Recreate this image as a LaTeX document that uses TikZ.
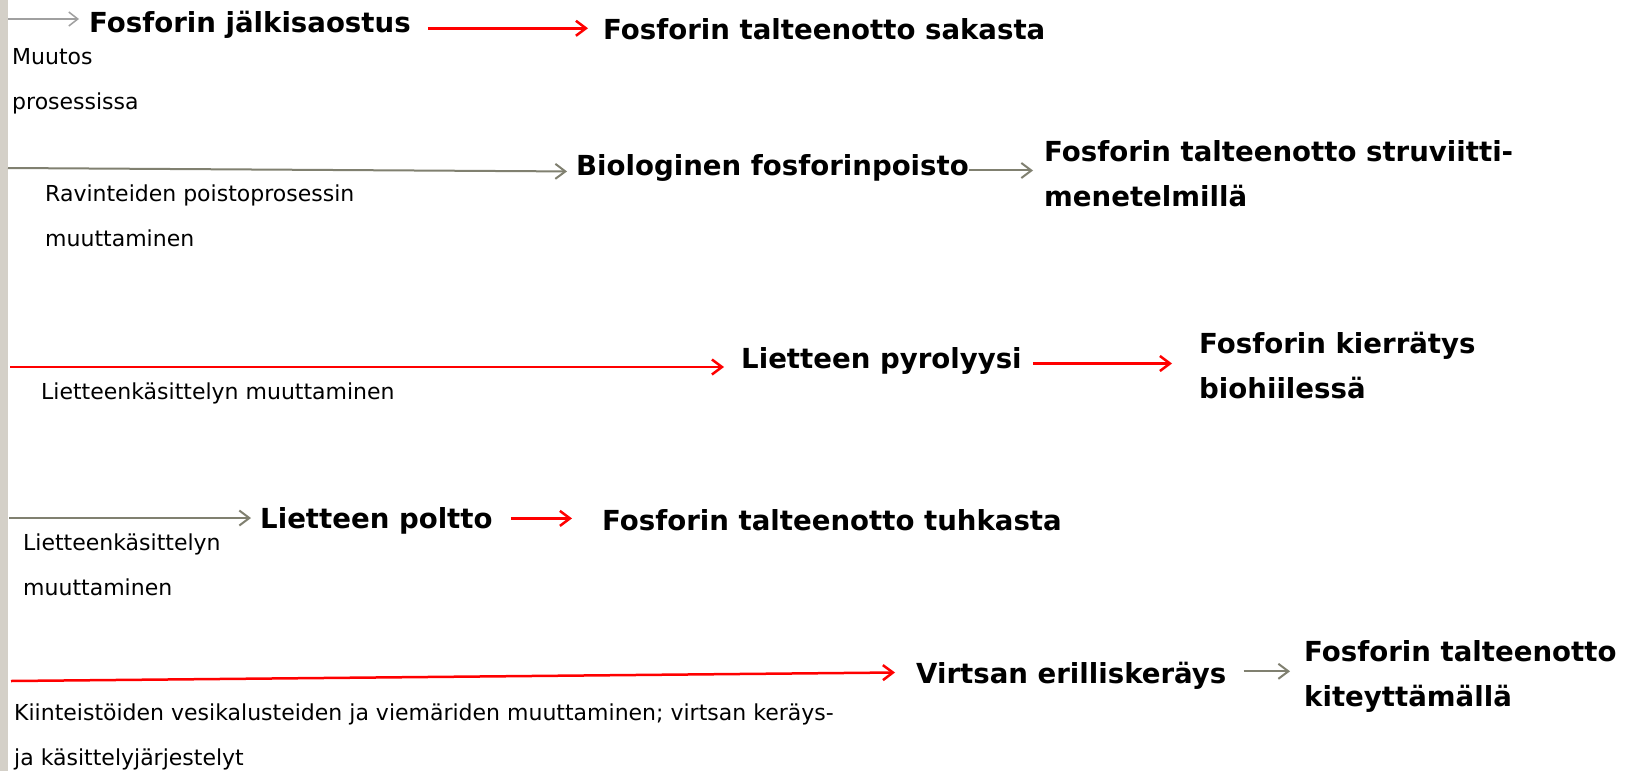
\documentclass[tikz,border=0pt]{standalone}
\usepackage{fontspec}
\setmainfont{DejaVu Sans}
\usetikzlibrary{arrows.meta}
\definecolor{barcol}{RGB}{212,208,200}
\definecolor{arrowgray}{RGB}{128,128,112}
\definecolor{palegray}{RGB}{160,160,160}
\begin{document}
\begin{tikzpicture}[x=1pt,y=-1pt,
    stage/.style={inner sep=0pt, anchor=base west, align=left, font=\fontsize{27.6}{44.5}\selectfont\bfseries},
    note/.style={inner sep=0pt, anchor=base west, align=left, font=\fontsize{22}{44.5}\selectfont},
    redarrow/.style={-{Straight Barb[length=10pt,width=15pt]}, red, line width=2.5pt},
    grayarrow/.style={-{Straight Barb[length=10pt,width=15pt]}, arrowgray, line width=2pt},
    lightarrow/.style={-{Straight Barb[length=9pt,width=14pt]}, palegray, line width=1.5pt}]
    % Canvas and left bar
    \fill[white] (0,0) rectangle (1627,771);
    \useasboundingbox (0,0) rectangle (1627,771);
    \fill[barcol] (0,0) rectangle (8,771);

    % Row 1: post-precipitation
    \coordinate (s1) at (8,19);
    \node[stage] (post) at (89,32) {Fosforin jälkisaostus};
    \node[stage] (sakasta) at (603,39.3) {Fosforin talteenotto sakasta};
    \node[note] (muutos) at (12,109) {Muutos\\prosessissa};
    \draw[lightarrow, shorten >=10pt] (s1) -- (s1 -| post.west);
    \draw[redarrow, shorten <=17pt, shorten >=15pt] ([yshift=-4pt]post.east) -- ([yshift=-4pt]post.east -| sakasta.west);

    % Row 2: biological removal
    \coordinate (s2) at (8,168);
    \node[stage] (bio) at (576,175) {Biologinen fosforinpoisto};
    \node[stage] (struv) at (1044,206) {Fosforin talteenotto struviitti-\\menetelmillä};
    \node[note] (ravint) at (45,246) {Ravinteiden poistoprosessin\\muuttaminen};
    \draw[grayarrow, shorten >=9pt] (s2) -- ([yshift=-4pt]bio.west);
    \draw[grayarrow, shorten >=11pt] ([yshift=-3pt]bio.east) -- ([yshift=-3pt]bio.east -| struv.west);

    % Row 3: pyrolysis
    \coordinate (s3) at (10,367);
    \node[stage] (pyro) at (741,368) {Lietteen pyrolyysi};
    \node[stage] (kierr) at (1199,398) {Fosforin kierrätys\\biohiilessä};
    \node[note] (liet1) at (41,399) {Lietteenkäsittelyn muuttaminen};
    \draw[redarrow, shorten >=17pt] (s3) -- (s3 -| pyro.west);
    \draw[redarrow, shorten <=11pt, shorten >=27pt] ([yshift=-3pt]pyro.east) -- ([yshift=-3pt]pyro.east -| kierr.west);

    % Row 4: incineration
    \coordinate (s4) at (9,518);
    \node[stage] (poltto) at (260,528) {Lietteen poltto};
    \node[stage] (tuhka) at (602,530) {Fosforin talteenotto tuhkasta};
    \node[note] (liet2) at (23,595) {Lietteenkäsittelyn\\muuttaminen};
    \draw[grayarrow, shorten >=9pt] (s4) -- (s4 -| poltto.west);
    \draw[redarrow, shorten <=18pt, shorten >=30pt] ([yshift=2pt]poltto.east) -- ([yshift=2pt]poltto.east -| tuhka.west);

    % Row 5: urine separation
    \coordinate (s5) at (11,681);
    \node[stage] (virtsa) at (916,683) {Virtsan erilliskeräys};
    \node[stage] (kitey) at (1304,706) {Fosforin talteenotto\\kiteyttämällä};
    \node[note] (kiint) at (14,765) {Kiinteistöiden vesikalusteiden ja viemäriden muuttaminen; virtsan keräys-\\ja käsittelyjärjestelyt};
    \draw[redarrow, shorten >=21pt] (s5) -- ([yshift=3pt]virtsa.west);
    \draw[grayarrow, shorten <=17pt, shorten >=14pt] ([yshift=4pt]virtsa.east) -- ([yshift=4pt]virtsa.east -| kitey.west);
\end{tikzpicture}
\end{document}
